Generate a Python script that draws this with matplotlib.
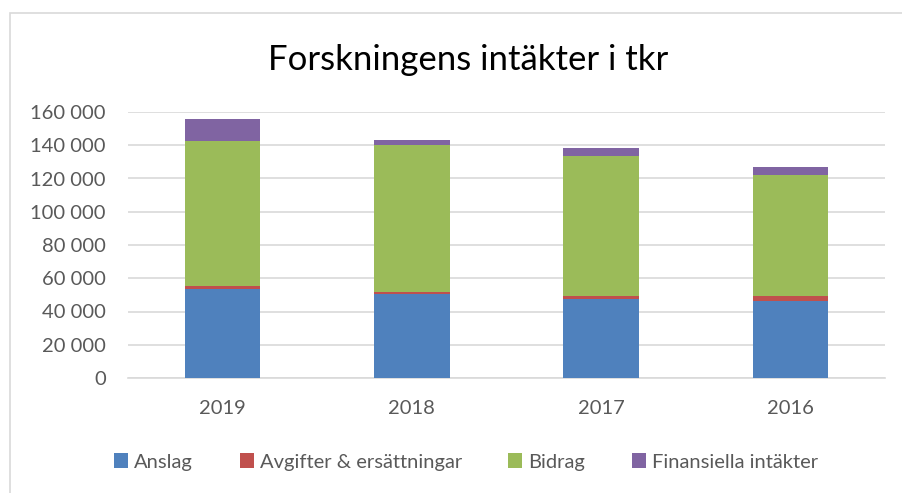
import numpy as np
import matplotlib
matplotlib.use("Agg")
from matplotlib import pyplot
from matplotlib.patches import Rectangle
from matplotlib.ticker import FuncFormatter

years = ["2019", "2018", "2017", "2016"]
anslag = [53300, 50300, 47300, 46500]
avgifter = [2200, 1600, 2200, 3000]
bidrag = [87000, 88000, 84000, 72400]
finansiella = [13300, 3000, 4600, 4800]

series = [
    ("Anslag", anslag, "#4F81BD"),
    ("Avgifter & ersättningar", avgifter, "#C0504D"),
    ("Bidrag", bidrag, "#9BBB59"),
    ("Finansiella intäkter", finansiella, "#8064A2"),
]

pyplot.rcParams['font.family'] = ['Lato', 'DejaVu Sans']

fig = pyplot.figure(figsize=(9.02, 4.93), dpi=100)
# chart border (right and bottom edges are cropped in the original)
fig.patches.append(Rectangle((10 / 902, -0.05), 1.2, 1 - 13 / 493 + 0.05,
                             transform=fig.transFigure, fill=False,
                             edgecolor="#D9D9D9", linewidth=1.2))

ax = fig.add_axes([128 / 902, 1 - 378 / 493, (885 - 128) / 902, (378 - 112) / 493])
x = np.arange(len(years))
bottom = np.zeros(len(years))
for label, values, color in series:
    ax.bar(x, values, 0.4, bottom=bottom, color=color, label=label, zorder=3)
    bottom += np.array(values)

ax.set_xlim(-0.5, len(years) - 0.5)
ax.set_ylim(0, 160000)
ax.set_yticks(range(0, 160001, 20000))
ax.yaxis.set_major_formatter(FuncFormatter(lambda v, p: "{:,}".format(int(v)).replace(",", " ")))
ax.set_xticks(x)
ax.set_xticklabels(years)
ax.grid(axis="y", color="#D9D9D9", linewidth=1.2, zorder=0)
for side in ("top", "right", "left"):
    ax.spines[side].set_visible(False)
ax.spines["bottom"].set_color("#D9D9D9")
ax.spines["bottom"].set_linewidth(1.2)
ax.tick_params(length=0, labelsize=14.5, colors="#595959")
ax.tick_params(axis="x", pad=16)
ax.tick_params(axis="y", pad=16)

fig.text(468 / 902, 1 - 60 / 493, "Forskningens intäkter i tkr", ha="center", va="center",
         fontsize=25, color="black")

fig.legend(loc="center", bbox_to_anchor=(466 / 902, 1 - 462 / 493), ncol=4, frameon=False,
           fontsize=14.5, labelcolor="#595959", handlelength=0.7, handleheight=0.7,
           handletextpad=0.3, columnspacing=2.3)

pyplot.savefig("out.png", dpi=100)
